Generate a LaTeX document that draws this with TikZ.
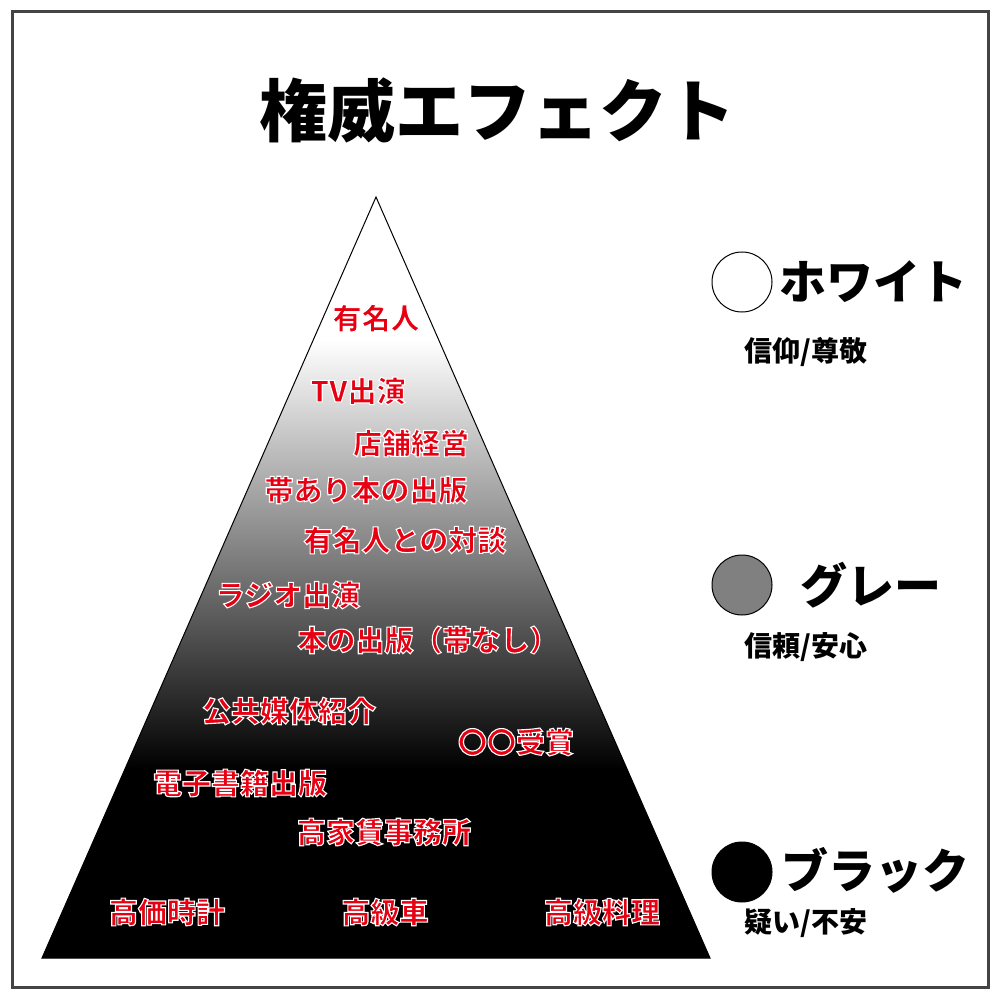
\documentclass[tikz,border=0pt]{standalone}
\usepackage{fontspec}
\setmainfont{Noto Sans CJK JP}
\newfontfamily\heavyfont{Noto Sans CJK JP}[UprightFont=* Black]
\definecolor{frame}{HTML}{444444}
\definecolor{lblred}{HTML}{E60012}
\definecolor{midgray}{HTML}{808080}
\newcommand{\redlbl}[1]{\special{pdf:literal direct 1 1 1 RG 2 Tr 1.1 w}#1\special{pdf:literal direct 0 Tr}}
\begin{document}
\begin{tikzpicture}[x=1pt,y=-1pt,
  lbl/.style={font=\heavyfont\fontsize{29}{29}\selectfont, text=lblred, inner sep=0pt},
  legname/.style={font=\bfseries\fontsize{47}{47}\selectfont, inner sep=0pt, anchor=west},
  legsub/.style={font=\bfseries\fontsize{28}{28}\selectfont, inner sep=0pt},
  legdot/.style={circle, draw=black, line width=1pt, minimum size=60pt, inner sep=0pt}]
\useasboundingbox (0,0) rectangle (1000,1000);
\fill[white] (0,0) rectangle (1000,1000);
\draw[frame, line width=3pt] (12,12) rectangle (988,987);
% title
\node[font=\bfseries\fontsize{68}{68}\selectfont, inner sep=0pt] (title) at (497,110) {権威エフェクト};
% pyramid
\begin{scope}
  \clip (376,197) -- (42,958) -- (710,958) -- cycle;
  \fill[white] (0,150) rectangle (1000,340);
  \shade[top color=white, bottom color=black] (0,340) rectangle (1000,770);
  \fill[black] (0,769) rectangle (1000,1000);
\end{scope}
\draw[black, line width=1pt] (376,197) -- (42,958) -- (710,958) -- cycle;
% labels
\node[lbl] (l1) at (376,318) {\redlbl{有名人}};
\node[lbl] (l2) at (358,391) {\redlbl{TV出演}};
\node[lbl] (l3) at (411,443) {\redlbl{店舗経営}};
\node[lbl] (l4) at (366,490) {\redlbl{帯あり本の出版}};
\node[lbl] (l5) at (405,540) {\redlbl{有名人との対談}};
\node[lbl] (l6) at (288,595) {\redlbl{ラジオ出演}};
\node[lbl] (l7) at (428,640) {\redlbl{本の出版（帯なし）}};
\node[lbl] (l8) at (289,711) {\redlbl{公共媒体紹介}};
\node[lbl] (l9) at (516,742) {\redlbl{〇〇受賞}};
\node[lbl] (l10) at (240,783) {\redlbl{電子書籍出版}};
\node[lbl] (l11) at (384,832) {\redlbl{高家賃事務所}};
\node[lbl] (l12) at (167,912) {\redlbl{高価時計}};
\node[lbl] (l13) at (385,912) {\redlbl{高級車}};
\node[lbl] (l14) at (602,912) {\redlbl{高級料理}};
% legend
\node[legdot, fill=white] (dw) at (742,282) {};
\node[legname] (nw) at (779,282) {ホワイト};
\node[legsub] (sw) at (806,352) {信仰/尊敬};
\node[legdot, fill=midgray] (dg) at (742,585) {};
\node[legname] (ng) at (800,585) {グレー};
\node[legsub] (sg) at (806,647) {信頼/安心};
\node[legdot, fill=black] (db) at (742,872) {};
\node[legname] (nb) at (781,870) {ブラック};
\node[legsub] (sb) at (806,923) {疑い/不安};
\end{tikzpicture}
\end{document}
